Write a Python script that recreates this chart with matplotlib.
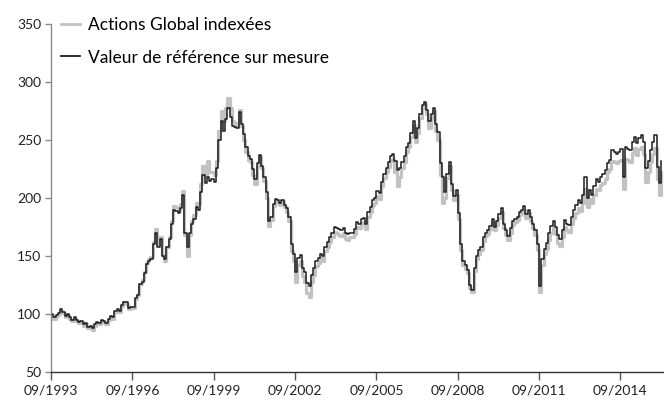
import matplotlib
matplotlib.use('Agg')
import matplotlib.pyplot as plt
import matplotlib.dates as mdates
from matplotlib.lines import Line2D
import numpy as np
import pandas as pd

# Monthly index values, Sep 1993 .. Mar 2016
start_month = "1993-09-01"
end_month = "2016-03-01"

# Valeur de référence sur mesure (black)
reference = [
    100, 97, 99, 101,
    104, 102, 98, 100, 97, 95, 97, 95, 93, 94, 91, 92,
    89, 90, 88, 91, 93, 92, 95, 94, 92, 96, 98, 97,
    103, 104, 103, 108, 110, 110, 105, 106, 106, 114, 116, 126,
    128, 135, 143, 146, 147, 160, 170, 158, 165, 150, 147, 158,
    165, 178, 190, 189, 187, 191, 203, 170, 158, 170, 178, 182,
    192, 190, 205, 220, 213, 218, 215, 216, 214, 226, 250, 266,
    258, 268, 278, 270, 262, 261, 260, 274, 264, 255, 244, 236,
    234, 225, 216, 230, 237, 228, 218, 205, 180, 184, 195, 199,
    198, 196, 198, 194, 191, 184, 160, 152, 136, 148, 151, 140,
    136, 127, 124, 134, 140, 146, 148, 152, 150, 158, 162, 166,
    170, 175, 174, 173, 172, 174, 170, 169, 170, 170, 173, 179,
    178, 182, 183, 178, 188, 192, 198, 200, 206, 204, 214, 221,
    226, 231, 236, 238, 232, 224, 226, 231, 236, 244, 247, 256,
    266, 252, 260, 272, 280, 283, 276, 266, 272, 278, 264, 257,
    230, 218, 205, 221, 231, 212, 202, 207, 187, 160, 146, 142,
    138, 125, 121, 140, 150, 155, 158, 166, 170, 172, 176, 182,
    175, 180, 186, 191, 178, 172, 167, 174, 180, 182, 184, 188,
    190, 193, 186, 190, 184, 178, 172, 160, 124, 147, 156, 161,
    170, 176, 180, 175, 168, 165, 172, 181, 178, 177, 184, 190,
    194, 198, 196, 203, 218, 200, 207, 203, 210, 216, 214, 218,
    221, 224, 230, 233, 241, 240, 238, 240, 242, 218, 244, 242,
    241, 248, 253, 247, 252, 254, 248, 226, 232, 241, 248, 254,
    227, 213, 232,
]

# Actions Global indexées (grey)
global_equities = [
    99, 96, 98, 100,
    103, 101, 97, 99, 96, 94, 96, 94, 92, 93, 90, 91,
    88, 89, 86, 90, 92, 91, 94, 93, 91, 95, 97, 96,
    102, 103, 102, 107, 110, 109, 104, 105, 105, 113, 116, 126,
    129, 136, 144, 147, 149, 162, 173, 160, 166, 151, 146, 158,
    166, 180, 193, 192, 190, 195, 206, 168, 150, 168, 180, 185,
    196, 195, 212, 228, 220, 232, 222, 222, 220, 232, 258, 275,
    266, 278, 286, 278, 266, 265, 263, 276, 262, 250, 240, 233,
    231, 220, 212, 228, 236, 226, 215, 200, 176, 181, 193, 197,
    196, 194, 197, 192, 188, 180, 154, 146, 128, 142, 146, 133,
    128, 118, 115, 128, 134, 141, 144, 148, 146, 154, 158, 162,
    166, 171, 170, 168, 167, 170, 165, 164, 166, 166, 169, 175,
    174, 178, 179, 173, 184, 188, 194, 196, 202, 199, 210, 217,
    222, 227, 232, 234, 222, 210, 218, 226, 231, 240, 244, 253,
    263, 248, 256, 269, 278, 281, 272, 260, 268, 275, 258, 250,
    220, 196, 200, 217, 228, 207, 198, 203, 182, 155, 142, 139,
    135, 122, 119, 137, 147, 152, 155, 163, 167, 169, 173, 179,
    172, 177, 183, 188, 174, 168, 164, 170, 177, 179, 181, 185,
    187, 190, 183, 187, 180, 174, 168, 155, 119, 142, 152, 156,
    164, 170, 174, 169, 161, 159, 166, 175, 172, 171, 178, 183,
    187, 191, 189, 196, 208, 192, 199, 196, 203, 208, 207, 211,
    213, 216, 222, 225, 232, 231, 230, 232, 233, 208, 234, 233,
    231, 239, 243, 237, 242, 244, 238, 214, 222, 231, 238, 243,
    216, 203, 222,
]

labels = ["Actions Global indexées", "Valeur de référence sur mesure"]
tick_dates = ["1993-09-01", "1996-09-01", "1999-09-01", "2002-09-01",
              "2005-09-01", "2008-09-01", "2011-09-01", "2014-09-01"]
y_ticks = [50, 100, 150, 200, 250, 300, 350]

dates = pd.date_range(start_month, end_month, freq="MS")

plt.rcParams['font.family'] = ['Lato', 'DejaVu Sans']

fig = plt.figure(figsize=(6.64, 4.0), dpi=100)
ax = fig.add_axes([0.077, 0.07, 0.923, 0.87])

grey = "#c2c2c2"
black = "#1c1c1c"
ax.plot(dates, global_equities, color=grey, linewidth=2.3,
        drawstyle='steps-post')
ax.plot(dates, reference, color=black, linewidth=1.1,
        drawstyle='steps-post')

ax.set_ylim(50, 350)
ax.set_yticks(y_ticks)
ax.set_xlim(pd.Timestamp(start_month), pd.Timestamp("2016-04-10"))
ax.set_xticks(pd.to_datetime(tick_dates))
ax.xaxis.set_major_formatter(mdates.DateFormatter("%m/%Y"))

for side in ["top", "right"]:
    ax.spines[side].set_visible(False)
ax.spines["left"].set_color("#8a8a8a")
ax.spines["left"].set_linewidth(1.0)
ax.spines["bottom"].set_color("#333333")
ax.spines["bottom"].set_linewidth(1.0)

ax.tick_params(axis='y', direction='out', length=4, width=1.0,
               color="#8a8a8a", labelsize=10, labelcolor="#222222", pad=3)
ax.tick_params(axis='x', direction='out', length=6, width=1.0,
               color="#555555", labelsize=10, labelcolor="#222222", pad=3)

handles = [Line2D([0], [0], color=grey, linewidth=2.0),
           Line2D([0], [0], color=black, linewidth=1.3)]
ax.legend(handles, labels, loc='upper left', bbox_to_anchor=(0.005, 1.04),
          frameon=False, fontsize=12.5, handlelength=1.1, handletextpad=0.45,
          labelspacing=0.95, borderaxespad=0)

fig.savefig("out.png", dpi=100)
